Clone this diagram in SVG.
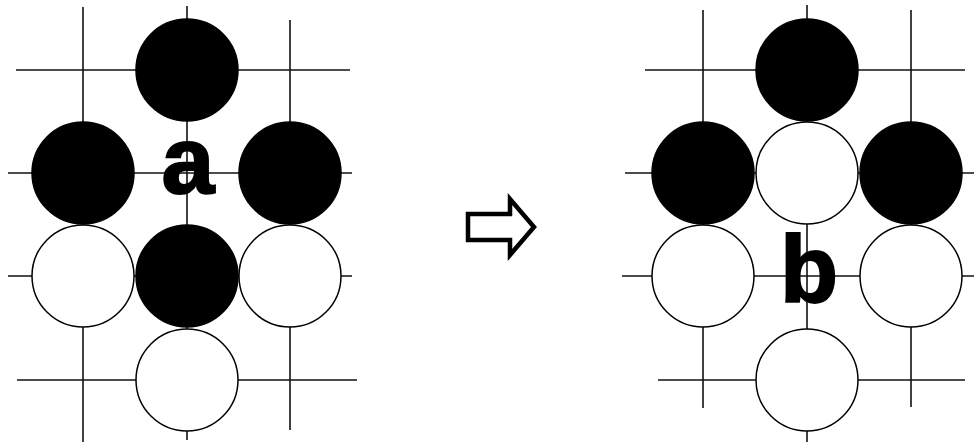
<svg xmlns="http://www.w3.org/2000/svg" width="974" height="444" viewBox="0 0 974 444">
<style>
.grid line{stroke:#111;stroke-width:1.6}
.b{fill:#000;stroke:#000;stroke-width:1.5}
.w{fill:#fff;stroke:#000;stroke-width:1.5}
.lbl{font-family:"Liberation Sans",Arial,sans-serif;font-weight:bold;font-size:95px;fill:#000;stroke:#000;stroke-width:2;text-anchor:middle}
</style>
<rect width="974" height="444" fill="#fff"/>
<g id="board-left">
<g class="grid">
<line x1="16" y1="70" x2="350" y2="70"/>
<line x1="8" y1="173" x2="352" y2="173"/>
<line x1="8" y1="276" x2="352" y2="276"/>
<line x1="17" y1="380" x2="357" y2="380"/>
<line x1="83" y1="7" x2="83" y2="442"/>
<line x1="187" y1="6" x2="187" y2="440"/>
<line x1="290" y1="20" x2="290" y2="430"/>
</g>
<circle id="L-b1" class="b" cx="187" cy="70" r="51"/>
<circle id="L-b2" class="b" cx="83" cy="173" r="51"/>
<circle id="L-b3" class="b" cx="290" cy="173" r="51"/>
<circle id="L-w1" class="w" cx="83" cy="276" r="51"/>
<circle id="L-b4" class="b" cx="187" cy="276" r="51"/>
<circle id="L-w2" class="w" cx="290" cy="276" r="51"/>
<circle id="L-w3" class="w" cx="187" cy="380" r="51"/>
<text id="label-a" class="lbl" x="188" y="193">a</text>
</g>
<g id="arrow">
<polygon points="468,214 510,214 510,199 534,227 510,255 510,240 468,240" fill="#fff" stroke="#000" stroke-width="4.5" stroke-linejoin="miter"/>
</g>
<g id="board-right">
<g class="grid">
<line x1="645" y1="70" x2="965" y2="70"/>
<line x1="625" y1="173" x2="974" y2="173"/>
<line x1="622" y1="276" x2="974" y2="276"/>
<line x1="658" y1="380" x2="965" y2="380"/>
<line x1="703" y1="10" x2="703" y2="408"/>
<line x1="807" y1="5" x2="807" y2="442"/>
<line x1="911" y1="10" x2="911" y2="407"/>
</g>
<circle id="R-b1" class="b" cx="807" cy="70" r="51"/>
<circle id="R-b2" class="b" cx="703" cy="173" r="51"/>
<circle id="R-w0" class="w" cx="807" cy="173" r="51"/>
<circle id="R-b3" class="b" cx="911" cy="173" r="51"/>
<circle id="R-w1" class="w" cx="703" cy="276" r="51"/>
<circle id="R-w2" class="w" cx="911" cy="276" r="51"/>
<circle id="R-w3" class="w" cx="807" cy="380" r="51"/>
<text id="label-b" class="lbl" x="809" y="302">b</text>
</g>
</svg>
